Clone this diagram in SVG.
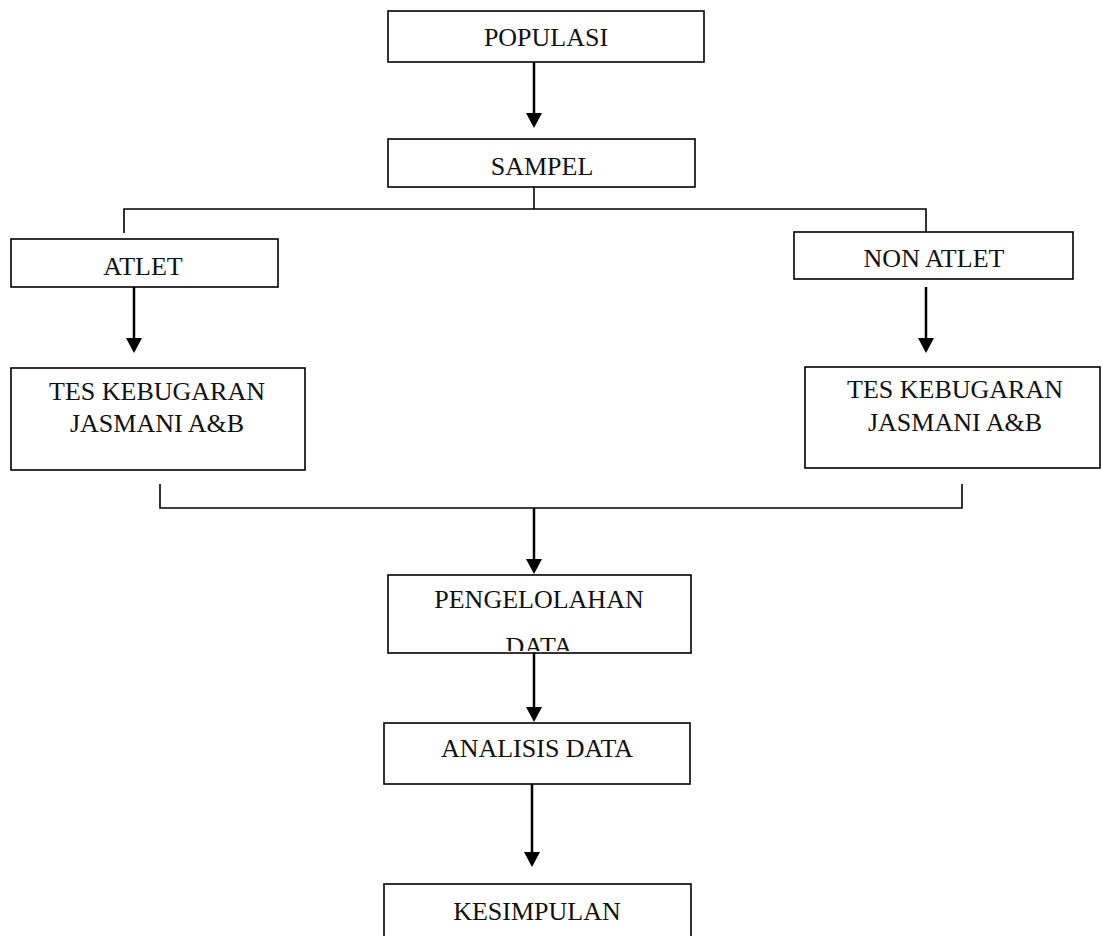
<svg xmlns="http://www.w3.org/2000/svg" width="1102" height="936" viewBox="0 0 1102 936">
<style>
.box{fill:#fff;stroke:#000;stroke-width:1.6}
.t{font-family:"Liberation Serif","Times New Roman",serif;font-size:26px;fill:#111;text-anchor:middle}
.ln{fill:none;stroke:#000;stroke-width:1.6}
.ar{fill:none;stroke:#000;stroke-width:2.5}
.hd{fill:#000}
</style>
<defs>
<clipPath id="clipPD"><rect x="388" y="575" width="303" height="76"/></clipPath>
</defs>
<rect width="1102" height="936" fill="#fff"/>
<g id="connectors">
<line class="ar" x1="534" y1="62" x2="534" y2="114"/><polygon class="hd" points="526,113 542,113 534,128"/>
<polyline class="ln" points="534,187 534,209"/>
<polyline class="ln" points="124,233 124,209 926,209 926,232"/>
<line class="ar" x1="134" y1="287" x2="134" y2="339"/><polygon class="hd" points="126,338 142,338 134,353"/>
<line class="ar" x1="926" y1="287" x2="926" y2="339"/><polygon class="hd" points="918,338 934,338 926,353"/>
<polyline class="ln" points="160,484 160,508 962,508 962,484"/>
<line class="ar" x1="534" y1="508" x2="534" y2="560"/><polygon class="hd" points="526,559 542,559 534,574"/>
<line class="ar" x1="534" y1="653" x2="534" y2="708"/><polygon class="hd" points="526,707 542,707 534,722"/>
<line class="ar" x1="532" y1="784" x2="532" y2="853"/><polygon class="hd" points="524,852 540,852 532,867"/>
</g>
<g id="populasi"><rect class="box" x="388" y="11" width="316" height="51"/><text class="t" x="546" y="46">POPULASI</text></g>
<g id="sampel"><rect class="box" x="388" y="139" width="307" height="48"/><text class="t" x="542" y="175">SAMPEL</text></g>
<g id="atlet"><rect class="box" x="11" y="239" width="267" height="48"/><text class="t" x="143" y="275">ATLET</text></g>
<g id="nonatlet"><rect class="box" x="794" y="232" width="279" height="47"/><text class="t" x="934" y="267">NON ATLET</text></g>
<g id="tes-atlet"><rect class="box" x="11" y="368" width="294" height="102"/><text class="t" x="157" y="400">TES KEBUGARAN</text><text class="t" x="157" y="432">JASMANI A&amp;B</text></g>
<g id="tes-nonatlet"><rect class="box" x="805" y="367" width="295" height="101"/><text class="t" x="955" y="398">TES KEBUGARAN</text><text class="t" x="955" y="431">JASMANI A&amp;B</text></g>
<g id="pengelolahan"><rect class="box" x="388" y="575" width="303" height="78"/><text class="t" x="539" y="608">PENGELOLAHAN</text><text class="t" x="539" y="655" clip-path="url(#clipPD)">DATA</text></g>
<g id="analisis"><rect class="box" x="384" y="723" width="306" height="61"/><text class="t" x="537" y="757">ANALISIS DATA</text></g>
<g id="kesimpulan"><rect class="box" x="384" y="884" width="307" height="60"/><text class="t" x="537" y="920">KESIMPULAN</text></g>
</svg>
